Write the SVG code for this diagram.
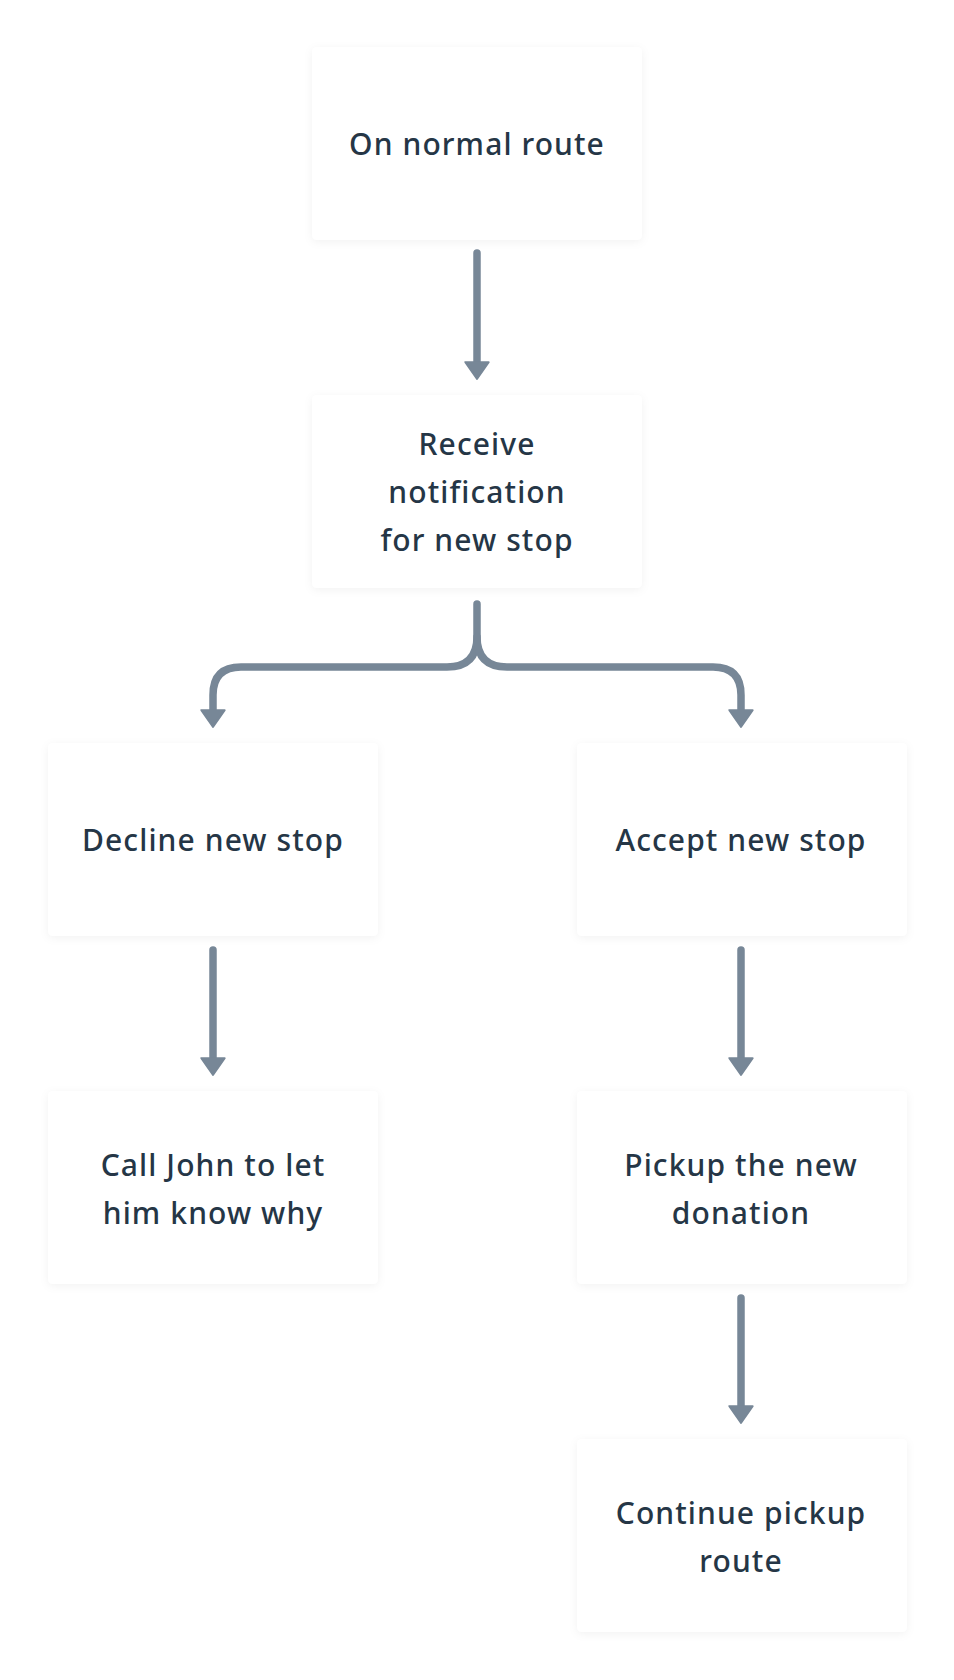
<svg xmlns="http://www.w3.org/2000/svg" width="954" height="1680" viewBox="0 0 954 1680">
<style>
.box{fill:#ffffff;filter:url(#sh)}
.t{font-family:"Noto Sans","Liberation Sans",sans-serif;font-size:30px;font-weight:500;fill:#253646;text-anchor:middle;letter-spacing:1.1px}
.c{fill:none;stroke:#778797;stroke-width:7.5;stroke-linecap:round;stroke-linejoin:round}
</style>
<defs>
<filter id="sh" x="-10%" y="-10%" width="120%" height="120%">
<feDropShadow dx="0" dy="2" stdDeviation="4" flood-color="#000" flood-opacity="0.05"/>
</filter>
<marker id="ah" markerUnits="userSpaceOnUse" markerWidth="30" markerHeight="30" refX="2" refY="0" viewBox="-2 -16 26 32" orient="auto" overflow="visible">
<path d="M0,-12.5 L18,0 L0,12.5 Z" fill="#778797" stroke="#778797" stroke-width="2" stroke-linejoin="round"/>
</marker>
</defs>
<rect width="954" height="1680" fill="#ffffff"/>
<g id="connectors">
<path class="c" d="M477,253 L477,364" marker-end="url(#ah)"/>
<path class="c" d="M477,604 L477,637 Q477,667 447,667 L241,667 Q213,667 213,695 L213,712" marker-end="url(#ah)"/>
<path class="c" d="M477,637 Q477,667 507,667 L713,667 Q741,667 741,695 L741,712" marker-end="url(#ah)"/>
<path class="c" d="M213,950 L213,1060" marker-end="url(#ah)"/>
<path class="c" d="M741,950 L741,1060" marker-end="url(#ah)"/>
<path class="c" d="M741,1298 L741,1408" marker-end="url(#ah)"/>
</g>
<g id="n1"><rect class="box" x="312" y="47" width="330" height="193" rx="5"/><text class="t" x="477" y="155">On normal route</text></g>
<g id="n2"><rect class="box" x="312" y="395" width="330" height="193" rx="5"/><text class="t" x="477" y="455">Receive</text><text class="t" x="477" y="503">notification</text><text class="t" x="477" y="551">for new stop</text></g>
<g id="n3"><rect class="box" x="48" y="743" width="330" height="193" rx="5"/><text class="t" x="213" y="851">Decline new stop</text></g>
<g id="n4"><rect class="box" x="577" y="743" width="330" height="193" rx="5"/><text class="t" x="741" y="851">Accept new stop</text></g>
<g id="n5"><rect class="box" x="48" y="1091" width="330" height="193" rx="5"/><text class="t" x="213" y="1176">Call John to let</text><text class="t" x="213" y="1224">him know why</text></g>
<g id="n6"><rect class="box" x="577" y="1091" width="330" height="193" rx="5"/><text class="t" x="741" y="1176">Pickup the new</text><text class="t" x="741" y="1224">donation</text></g>
<g id="n7"><rect class="box" x="577" y="1439" width="330" height="193" rx="5"/><text class="t" x="741" y="1524">Continue pickup</text><text class="t" x="741" y="1572">route</text></g>
</svg>
